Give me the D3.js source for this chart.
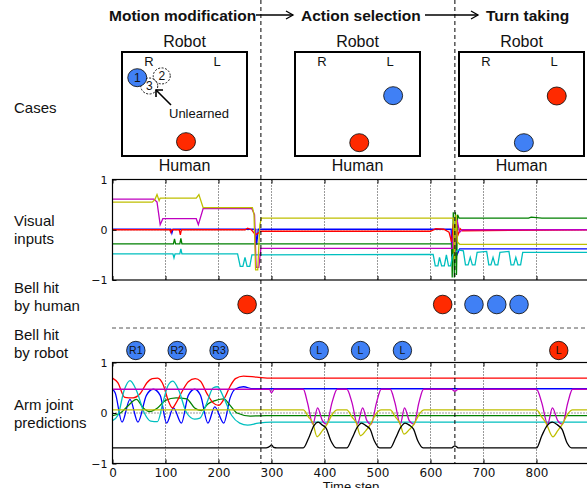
<!DOCTYPE html>
<html>
<head>
<meta charset="utf-8">
<script src="https://cdn.jsdelivr.net/npm/d3@7"></script>
<style>
  html, body { margin: 0; padding: 0; background: #fff; }
  svg { display: block; }
  text { font-family: "Liberation Sans", Arial, Helvetica, sans-serif; fill: #111; }
  .tick text { font-family: "DejaVu Sans", sans-serif; }
</style>
</head>
<body>
<svg id="chart" width="587" height="488"></svg>
<script>
// ---- data --------------------------------------------------------------
const phaseBreaks = [280, 646]                 // time steps of the dashed lines
const phaseNames  = ["Motion modification", "Action selection", "Turn taking"]
const rowLabels   = [["Cases"], ["Visual", "inputs"], ["Bell hit", "by human"],
                     ["Bell hit", "by robot"], ["Arm joint", "predictions"]]
const xTicks = [0, 100, 200, 300, 400, 500, 600, 700, 800]
const yTicks = [-1, 0, 1]

// bells hit by human / robot (time step)
const humanHits   = [254, 623, 682, 725, 767]
const humanColors = ["red", "red", "blue", "blue", "blue"]
const robotHits   = [44, 122, 201, 390, 468, 547, 842]
const robotLabels = ["R1", "R2", "R3", "L", "L", "L", "L"]
const robotColors = ["blue", "blue", "blue", "blue", "blue", "blue", "red"]

// cases: ball positions as fractions of each box
const caseBalls = [
  { box: 0, fx: 0.318, fy: 0.230, color: null,   label: "2" },
  { box: 0, fx: 0.218, fy: 0.327, color: null,   label: "3" },
  { box: 0, fx: 0.122, fy: 0.247, color: "blue", label: "1" },
  { box: 0, fx: 0.512, fy: 0.862, color: "red",  label: "" },
  { box: 1, fx: 0.785, fy: 0.420, color: "blue", label: "" },
  { box: 1, fx: 0.514, fy: 0.872, color: "red",  label: "" },
  { box: 2, fx: 0.782, fy: 0.423, color: "red",  label: "" },
  { box: 2, fx: 0.519, fy: 0.872, color: "blue", label: "" }
]

// visual inputs [time, value]
const visBlue = [[0,0.01],[110,0.01],[112,-0.07],[114,0.01],[270,0.01],[272,-0.3],[275,0.01],
  [639,0.01],[640,-0.52],[644,-0.52],[646,-0.3],[650,-0.5],[655,-0.38],[900,-0.38]]
const visGreen = [[0,-0.28],[115,-0.28],[117,-0.18],[119,-0.28],[127,-0.28],[129,-0.17],[131,-0.28],
  [640,-0.28],[641,-0.95],[643,0.35],[645,-0.95],[647,0.35],[649,-0.9],[651,0.3],[654,0.23],
  [785,0.23],[790,0.25],[800,0.24],[810,0.23],[900,0.23]]
const visRed = [[0,0],[108,0],[110,-0.05],[112,0],[126,0],[128,-0.1],[130,0],[250,0],[255,0.03],
  [262,0],[270,-0.1],[280,-0.03],[600,-0.03],[610,0.02],[625,0.01],[635,-0.05],[640,-0.25],
  [643,0.1],[648,0.05],[652,-0.1],[656,0.02],[660,-0.02],[900,0]]
const visCyan = [[0,-0.48],[114,-0.48],[116,-0.56],[118,-0.48],[127,-0.48],[129,-0.38],[131,-0.48],
  [236,-0.48],[241,-0.73],[246,-0.73],[250,-0.55],[254,-0.73],[259,-0.73],[263,-0.5],
  [605,-0.49],[609,-0.72],[614,-0.72],[617,-0.55],[621,-0.72],[626,-0.72],[630,-0.5],[634,-0.72],
  [638,-0.72],[642,-0.5],[652,-0.4],[662,-0.42],[666,-0.7],[671,-0.7],[675,-0.55],[679,-0.7],
  [684,-0.7],[688,-0.45],[706,-0.43],[710,-0.7],[714,-0.7],[718,-0.55],[722,-0.7],[727,-0.7],
  [731,-0.45],[748,-0.43],[752,-0.7],[757,-0.7],[761,-0.55],[765,-0.7],[770,-0.7],[774,-0.45],[900,-0.45]]
const visMagenta = [[0,0.61],[78,0.61],[84,0.55],[90,0.1],[95,0.22],[158,0.22],[162,0.1],[171,0.42],
  [263,0.42],[268,0.3],[271,-0.75],[276,-0.75],[280,-0.37],[641,-0.37],[643,-0.1],[646,-0.45],
  [650,0.2],[655,-0.05],[660,0],[900,0]]
const visYellow = [[0,0.55],[75,0.55],[80,0.6],[84,0.7],[88,0.58],[90,0.63],[158,0.63],[163,0.7],
  [171,0.44],[264,0.44],[267,0.3],[270,-0.8],[274,-0.8],[278,0.1],[281,0.23],[643,0.23],
  [645,-0.6],[648,0.3],[651,-0.25],[655,-0.29],[900,-0.29]]

// arm joint predictions [time, value]
const armBlue = [[0,0.47],[5,0.4],[18,-0.18],[33,0.27],[48,-0.18],[64,0.35],[77,0.47],[90,0.35],
  [102,-0.2],[115,0.1],[130,-0.2],[143,0.35],[155,0.47],[166,0.35],[180,-0.2],[193,0.12],
  [210,-0.2],[222,0.3],[231,0.47],[247,0.52],[265,0.48],[900,0.48]]
const armGreen = [[0,-0.05],[15,0],[30,0.15],[45,0.27],[58,0.1],[70,0.03],[85,0.1],[100,0.25],
  [120,0.3],[140,0.28],[155,0.1],[168,0.05],[180,0.18],[195,0.25],[210,0.28],[222,0.15],
  [235,0],[260,-0.06],[290,-0.05],[900,-0.05]]
const armRed = [[0,0.69],[10,0.6],[23,0.31],[39,0.3],[52,0.38],[65,0.6],[75,0.68],[85,0.69],
  [96,0.55],[105,0.25],[113,0.1],[120,0.2],[130,0.4],[143,0.62],[156,0.68],[166,0.63],
  [178,0.39],[190,0.2],[200,0.15],[210,0.27],[222,0.53],[232,0.68],[247,0.73],[272,0.71],
  [300,0.69],[900,0.69]]
const armCyan = [[0,-0.15],[10,-0.05],[22,0.45],[33,0.64],[45,0.45],[60,0],[72,-0.16],[85,-0.17],
  [95,0.2],[105,0.55],[114,0.63],[125,0.45],[140,0],[155,-0.12],[165,-0.1],[178,0.2],[190,0.5],
  [198,0.52],[210,0.3],[225,-0.05],[240,-0.2],[255,-0.24],[275,-0.2],[300,-0.18],[900,-0.18]]
const armMagenta = [[0,0.47],[296,0.47],[300,0.4],[305,0.47],[360,0.47],[368,0.2],[378,-0.22],
  [387,0.1],[396,-0.15],[404,-0.22],[414,0.2],[424,0.47],[442,0.47],[452,0.2],[462,-0.22],
  [472,0.1],[480,-0.15],[488,-0.22],[498,0.2],[507,0.47],[524,0.47],[533,0.2],[543,-0.22],
  [551,0.1],[560,-0.15],[569,-0.22],[578,0.2],[587,0.47],[640,0.47],[646,0.43],[652,0.47],
  [800,0.47],[810,0.2],[821,-0.22],[830,0.1],[840,-0.15],[849,-0.22],[859,0.2],[868,0.47],[900,0.47]]
const armYellow = [[0,0.06],[360,0.06],[370,-0.08],[378,-0.2],[386,-0.47],[396,-0.35],[405,-0.22],
  [415,-0.02],[424,0.06],[442,0.06],[452,-0.08],[460,-0.2],[468,-0.45],[478,-0.35],[487,-0.22],
  [497,-0.02],[507,0.06],[524,0.06],[534,-0.08],[542,-0.2],[550,-0.42],[560,-0.33],[569,-0.22],
  [579,-0.02],[588,0.06],[800,0.06],[810,-0.08],[818,-0.2],[831,-0.47],[840,-0.35],[849,-0.22],
  [859,-0.02],[868,0.06],[900,0.06]]
const armBlack = [[0,-0.69],[290,-0.69],[297,-0.66],[300,-0.63],[304,-0.68],[310,-0.69],
  [360,-0.69],[370,-0.5],[380,-0.25],[388,-0.18],[396,-0.24],[403,-0.3],[412,-0.55],[422,-0.69],
  [442,-0.69],[452,-0.5],[462,-0.28],[470,-0.2],[478,-0.25],[486,-0.32],[494,-0.55],[504,-0.69],
  [524,-0.69],[534,-0.5],[544,-0.28],[552,-0.2],[560,-0.24],[568,-0.32],[576,-0.55],[586,-0.69],
  [640,-0.69],[646,-0.65],[652,-0.69],[800,-0.69],[810,-0.45],[820,-0.25],[830,-0.18],
  [840,-0.24],[848,-0.32],[858,-0.6],[866,-0.69],[900,-0.69]]

// ---- styles --------------------------------------------------------------
const ball = { red: "#ff2a00", blue: "#4080f5" }
const mpl  = { b: "#0000ff", g: "#008000", r: "#ff0000", c: "#00bfbf", m: "#bf00bf", y: "#bfbf00", k: "#000000" }

const visSeries = [[visBlue, mpl.b], [visGreen, mpl.g], [visRed, mpl.r],
                   [visCyan, mpl.c], [visMagenta, mpl.m], [visYellow, mpl.y]]
const armSeries = [[armBlue, mpl.b], [armGreen, mpl.g], [armRed, mpl.r], [armCyan, mpl.c],
                   [armMagenta, mpl.m], [armYellow, mpl.y], [armBlack, mpl.k]]

// ---- layout --------------------------------------------------------------
const svg = d3.select("#chart")
const x = d3.scaleLinear().domain([0, 900]).range([112.5, 589.5])
const yVis = d3.scaleLinear().domain([-1, 1]).range([280, 179.5])
const yArm = d3.scaleLinear().domain([-1, 1]).range([463.5, 362.5])

const boxLeft = [122, 295, 459], boxTop = 52, boxW = 125, boxH = 104

// headings with arrows
const headX = [109, 301, 486]
svg.selectAll(".head").data(phaseNames).enter().append("text")
  .attr("x", (d, i) => headX[i]).attr("y", 21)
  .attr("font-size", 15.5).attr("font-weight", "bold").text(d => d)

const arrows = [[256, 293], [425, 478]]
arrows.forEach(([a, b]) => {
  svg.append("line").attr("x1", a).attr("x2", b).attr("y1", 15).attr("y2", 15)
    .attr("stroke", "#000").attr("stroke-width", 1.3)
  svg.append("path").attr("d", `M${b - 7},11 L${b},15 L${b - 7},19`)
    .attr("fill", "none").attr("stroke", "#000").attr("stroke-width", 1.3)
})

// left row labels
const rowY = [113, 226, 293, 340, 410]
rowLabels.forEach((lines, i) => {
  lines.forEach((s, j) => {
    svg.append("text").attr("x", 14).attr("y", rowY[i] + j * 18)
      .attr("font-size", 15).text(s)
  })
})

// ---- cases boxes ----------------------------------------------------------
boxLeft.forEach((bx, i) => {
  const cx = bx + boxW / 2
  svg.append("text").attr("x", cx).attr("y", 46.5).attr("text-anchor", "middle")
    .attr("font-size", 16).text("Robot")
  svg.append("text").attr("x", cx).attr("y", 171).attr("text-anchor", "middle")
    .attr("font-size", 16).text("Human")
  svg.append("rect").attr("x", bx).attr("y", boxTop).attr("width", boxW).attr("height", boxH)
    .attr("fill", "none").attr("stroke", "#000").attr("stroke-width", 2)
  svg.append("text").attr("x", bx + 27).attr("y", 66).attr("text-anchor", "middle")
    .attr("font-size", 13).text("R")
  svg.append("text").attr("x", bx + 95).attr("y", 66).attr("text-anchor", "middle")
    .attr("font-size", 13).text("L")
})

const bxs = boxLeft.map(bx => d3.scaleLinear().range([bx, bx + boxW]))
const bys = d3.scaleLinear().range([boxTop, boxTop + boxH])

const cb = svg.append("g").selectAll("g").data(caseBalls).enter().append("g")
  .attr("transform", d => `translate(${bxs[d.box](d.fx)},${bys(d.fy)})`)
cb.append("ellipse")
  .attr("rx", d => d.color ? 9.5 : 8.5).attr("ry", d => d.color ? 9 : 8)
  .attr("fill", d => d.color ? ball[d.color] : "none")
  .attr("stroke", "#000").attr("stroke-width", d => d.color ? 0.8 : 0.9)
  .attr("stroke-dasharray", d => d.color ? null : "2,1.5")
cb.append("text").attr("text-anchor", "middle").attr("dy", "0.36em")
  .attr("font-size", 12).text(d => d.label)

// "Unlearned" pointer in the first box
svg.append("text").attr("x", 199).attr("y", 117.5).attr("text-anchor", "middle")
  .attr("font-size", 13).text("Unlearned")
svg.append("line").attr("x1", 171).attr("y1", 105).attr("x2", 156).attr("y2", 90)
  .attr("stroke", "#000").attr("stroke-width", 1.6)
svg.append("path").attr("d", "M156,97 L156,90 L163,90")
  .attr("fill", "none").attr("stroke", "#000").attr("stroke-width", 1.6)

// ---- line panels ----------------------------------------------------------
function drawPanel(y, series, curve, id, showX) {
  const top = y.range()[1], bot = y.range()[0]
  const x0 = x.range()[0], x1 = x.range()[1]

  svg.append("clipPath").attr("id", id).append("rect")
    .attr("x", x0).attr("y", top).attr("width", x1 - x0).attr("height", bot - top)

  const g = svg.append("g")

  // dotted grid
  g.selectAll(".gx").data(xTicks.slice(1)).enter().append("line")
    .attr("x1", d => x(d)).attr("x2", d => x(d)).attr("y1", top).attr("y2", bot)
    .attr("stroke", "#000").attr("stroke-width", 0.8).attr("stroke-dasharray", "1,2")
  g.append("line").attr("x1", x0).attr("x2", x1).attr("y1", y(0)).attr("y2", y(0))
    .attr("stroke", "#000").attr("stroke-width", 0.8).attr("stroke-dasharray", "1,2")

  const line = d3.line().x(d => x(d[0])).y(d => y(d[1])).curve(curve)
  g.append("g").attr("clip-path", `url(#${id})`)
    .selectAll("path").data(series).enter().append("path")
    .attr("d", d => line(d[0])).attr("fill", "none")
    .attr("stroke", d => d[1]).attr("stroke-width", 1.3)

  // frame + inward ticks
  g.append("rect").attr("x", x0).attr("y", top).attr("width", x1 - x0).attr("height", bot - top)
    .attr("fill", "none").attr("stroke", "#000").attr("stroke-width", 1.2)

  const ax = g.append("g").attr("transform", `translate(0,${bot})`)
    .call(d3.axisBottom(x).tickValues(xTicks).tickSizeInner(-4).tickSizeOuter(0).tickPadding(5))
  ax.select(".domain").remove()
  ax.selectAll("text").attr("font-size", 12).attr("font-family", "DejaVu Sans")
  if (!showX) ax.selectAll("text").remove()

  const at = g.append("g").attr("transform", `translate(0,${top})`)
    .call(d3.axisTop(x).tickValues(xTicks).tickSizeInner(-4).tickSizeOuter(0).tickFormat(""))
  at.select(".domain").remove()

  const ay = g.append("g").attr("transform", `translate(${x0},0)`)
    .call(d3.axisLeft(y).tickValues(yTicks).tickSizeInner(-4).tickSizeOuter(0).tickPadding(5)
      .tickFormat(d => d < 0 ? "\u22121" : d))
  ay.select(".domain").remove()
  ay.selectAll("text").attr("font-size", 11).attr("font-family", "DejaVu Sans")
}

drawPanel(yVis, visSeries, d3.curveLinear, "clipVis", false)
drawPanel(yArm, armSeries, d3.curveMonotoneX, "clipArm", true)

svg.append("text").attr("x", x(450)).attr("y", 491).attr("text-anchor", "middle")
  .attr("font-size", 13).attr("font-family", "DejaVu Sans").text("Time step")

// ---- bell hits ----------------------------------------------------------------
svg.append("line").attr("x1", 112).attr("x2", 587).attr("y1", 328).attr("y2", 328)
  .attr("stroke", "#555").attr("stroke-width", 1).attr("stroke-dasharray", "4,3")

svg.append("g").selectAll("circle").data(humanHits).enter().append("circle")
  .attr("cx", d => x(d)).attr("cy", 304.5).attr("r", 9.3)
  .attr("fill", (d, i) => ball[humanColors[i]]).attr("stroke", "#000").attr("stroke-width", 0.8)

const rb = svg.append("g").selectAll("g").data(robotHits).enter().append("g")
  .attr("transform", d => `translate(${x(d)},350.5)`)
rb.append("circle").attr("r", 9.2)
  .attr("fill", (d, i) => ball[robotColors[i]]).attr("stroke", "#000").attr("stroke-width", 0.8)
rb.append("text").attr("text-anchor", "middle").attr("dy", "0.36em")
  .attr("font-size", 10.5).attr("fill", "#0a1433").text((d, i) => robotLabels[i])

// ---- phase boundaries ----------------------------------------------------------
svg.append("g").selectAll("line").data(phaseBreaks).enter().append("line")
  .attr("x1", d => x(d)).attr("x2", d => x(d)).attr("y1", 0).attr("y2", 463.5)
  .attr("stroke", "#000").attr("stroke-width", 1).attr("stroke-dasharray", "4,3")
</script>
</body>
</html>
